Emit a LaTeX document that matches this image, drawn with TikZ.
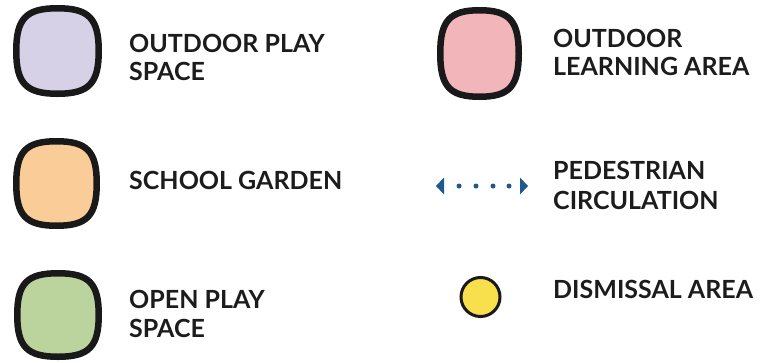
\documentclass[tikz,border=0pt]{standalone}
\usepackage{fontspec}
\setmainfont{Lato}[UprightFont=* Bold]
\definecolor{cpurple}{RGB}{214,209,231}
\definecolor{cpeach}{RGB}{250,205,152}
\definecolor{cgreen}{RGB}{187,212,158}
\definecolor{cpink}{RGB}{241,181,186}
\definecolor{cyellow}{RGB}{248,224,76}
\definecolor{cblue}{RGB}{30,88,140}
\definecolor{ctext}{RGB}{28,28,28}
\newcommand\mysquircle[5]{%
  \draw[swatch, fill=#5]
    ({#1+#3},{#2}) .. controls ({#1+#3},{#2+0.76*#4}) and ({#1+0.76*#3},{#2+#4}) ..
    ({#1},{#2+#4}) .. controls ({#1-0.76*#3},{#2+#4}) and ({#1-#3},{#2+0.76*#4}) ..
    ({#1-#3},{#2}) .. controls ({#1-#3},{#2-0.76*#4}) and ({#1-0.76*#3},{#2-#4}) ..
    ({#1},{#2-#4}) .. controls ({#1+0.76*#3},{#2-#4}) and ({#1+#3},{#2-0.76*#4}) ..
    cycle;}
\begin{document}
\begin{tikzpicture}[x=1pt,y=-1pt,
  swatch/.style={draw=black!90, line width=6.5pt},
  lbl/.style={anchor=base west, inner sep=0pt, font=\fontsize{25pt}{28pt}\selectfont, text=ctext},
  dotc/.style={circle, fill=cblue, inner sep=0pt, minimum size=5pt}]
\useasboundingbox (0,0) rectangle (761,362);
% swatches
\mysquircle{57.5}{51}{41.25}{42.75}{cpurple}
\mysquircle{56.5}{183.5}{40.25}{42.25}{cpeach}
\mysquircle{58}{315}{40.75}{41.75}{cgreen}
\mysquircle{479.5}{53.5}{39.25}{43.25}{cpink}
% labels left
\node[lbl] (t1a) at (129,52) {OUTDOOR PLAY};
\node[lbl] (t1b) at (129,80) {SPACE};
\node[lbl] (t2) at (129,189) {SCHOOL GARDEN};
\node[lbl] (t3a) at (129,308) {OPEN PLAY};
\node[lbl] (t3b) at (129,337) {SPACE};
% labels right
\node[lbl] (t4a) at (553,47) {OUTDOOR};
\node[lbl] (t4b) at (553,75) {LEARNING AREA};
\node[lbl] (t5a) at (553,179) {PEDESTRIAN};
\node[lbl] (t5b) at (553,209) {CIRCULATION};
\node[lbl] (t6) at (553,298) {DISMISSAL AREA};
% pedestrian circulation
\fill[cblue] (436,186) -- (444,177.5) -- (444,194.5) -- cycle;
\fill[cblue] (528,186) -- (520,177.5) -- (520,194.5) -- cycle;
\node[dotc] (d1) at (459,186) {};
\node[dotc] (d2) at (476,186) {};
\node[dotc] (d3) at (493,186) {};
\node[dotc] (d4) at (509,186) {};
% dismissal
\node[circle, draw=black!90, line width=3pt, fill=cyellow, minimum size=39pt, inner sep=0pt] (dis) at (480.5,297) {};
\end{tikzpicture}
\end{document}
